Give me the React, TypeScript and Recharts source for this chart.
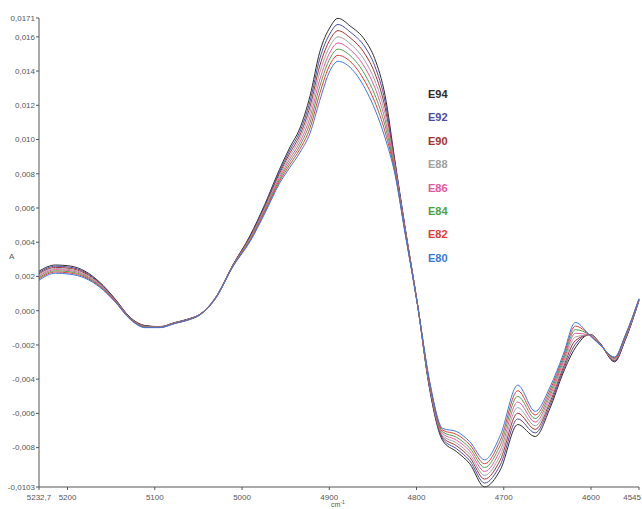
import React from 'react'
import { LineChart, Line, XAxis, YAxis } from 'recharts'

// wavenumbers (cm-1), read left to right
const wavenumbers = [
  5232.7, 5214, 5197, 5180, 5163, 5146, 5128, 5111, 5094, 5077, 5060, 5048, 5031, 5010, 4991, 4974,
  4957, 4945, 4934, 4922, 4911, 4899, 4890, 4876, 4859, 4848, 4836, 4825, 4813, 4799, 4785, 4770,
  4754, 4739, 4722, 4704, 4684, 4664, 4647, 4632, 4618, 4601, 4590, 4573, 4561, 4545
]

const e94 = [0.00231, 0.00267, 0.00261, 0.00231, 0.00166, 0.00072, -0.0004, -0.00087, -0.00093, -0.00069, -0.00046, -0.0002, 0.00072, 0.00272, 0.00437, 0.0062, 0.00826, 0.00956, 0.01062, 0.01256, 0.0151, 0.01657, 0.01708, 0.01663, 0.0158, 0.01474, 0.01256, 0.00885, 0.00484, 0.00042, -0.00458, -0.00759, -0.00824, -0.00894, -0.0103, -0.0093, -0.00665, -0.00735, -0.0057, -0.00364, -0.00217, -0.00138, -0.00187, -0.00299, -0.00175, 0.0006]
const e92 = [0.00223, 0.0026, 0.00254, 0.00225, 0.00162, 0.00069, -0.00042, -0.00089, -0.00094, -0.0007, -0.00047, -0.00021, 0.00071, 0.0027, 0.00432, 0.00612, 0.00814, 0.00939, 0.01042, 0.01225, 0.0147, 0.01621, 0.01672, 0.01628, 0.0154, 0.01432, 0.01221, 0.00873, 0.00479, 0.00041, -0.00451, -0.00749, -0.00807, -0.00876, -0.01007, -0.00901, -0.00632, -0.00714, -0.00552, -0.00349, -0.00196, -0.00139, -0.00189, -0.00295, -0.00171, 0.00061]
const e90 = [0.00216, 0.00253, 0.00247, 0.00219, 0.00158, 0.00067, -0.00043, -0.0009, -0.00095, -0.00071, -0.00048, -0.00021, 0.0007, 0.00269, 0.00427, 0.00605, 0.00803, 0.00922, 0.01022, 0.01194, 0.01429, 0.01585, 0.01636, 0.01594, 0.01499, 0.0139, 0.01185, 0.00862, 0.00474, 0.00041, -0.00445, -0.00739, -0.0079, -0.00857, -0.00984, -0.00872, -0.00599, -0.00693, -0.00535, -0.00334, -0.00175, -0.0014, -0.0019, -0.00291, -0.00167, 0.00063]
const e88 = [0.00208, 0.00246, 0.0024, 0.00213, 0.00154, 0.00064, -0.00045, -0.00092, -0.00096, -0.00072, -0.00049, -0.00022, 0.00069, 0.00267, 0.00422, 0.00597, 0.00791, 0.00905, 0.01002, 0.01163, 0.01389, 0.01548, 0.016, 0.01559, 0.01459, 0.01348, 0.0115, 0.0085, 0.00469, 0.0004, -0.00438, -0.00729, -0.00773, -0.00839, -0.00962, -0.00844, -0.00566, -0.00672, -0.00517, -0.00318, -0.00154, -0.00141, -0.00192, -0.00287, -0.00163, 0.00064]
const e86 = [0.00201, 0.0024, 0.00234, 0.00208, 0.00149, 0.00062, -0.00047, -0.00094, -0.00096, -0.00072, -0.00049, -0.00022, 0.00069, 0.00266, 0.00417, 0.0059, 0.00779, 0.00889, 0.00981, 0.01131, 0.01348, 0.01512, 0.01564, 0.01525, 0.01419, 0.01306, 0.01115, 0.00838, 0.00464, 0.0004, -0.00431, -0.00718, -0.00757, -0.0082, -0.00939, -0.00815, -0.00533, -0.00651, -0.00499, -0.00303, -0.00132, -0.00143, -0.00194, -0.00282, -0.00158, 0.00066]
const e84 = [0.00193, 0.00233, 0.00227, 0.00202, 0.00145, 0.00059, -0.00048, -0.00095, -0.00097, -0.00073, -0.0005, -0.00023, 0.00068, 0.00264, 0.00412, 0.00582, 0.00767, 0.00872, 0.00961, 0.011, 0.01308, 0.01476, 0.01528, 0.0149, 0.01378, 0.01264, 0.0108, 0.00826, 0.00459, 0.00039, -0.00424, -0.00708, -0.0074, -0.00802, -0.00916, -0.00786, -0.005, -0.0063, -0.00482, -0.00288, -0.00111, -0.00144, -0.00196, -0.00278, -0.00154, 0.00067]
const e82 = [0.00186, 0.00226, 0.0022, 0.00196, 0.00141, 0.00057, -0.0005, -0.00097, -0.00098, -0.00074, -0.00051, -0.00023, 0.00067, 0.00263, 0.00407, 0.00575, 0.00756, 0.00855, 0.00941, 0.01069, 0.01268, 0.0144, 0.01492, 0.01456, 0.01338, 0.01222, 0.01044, 0.00815, 0.00454, 0.00039, -0.00418, -0.00698, -0.00723, -0.00783, -0.00894, -0.00758, -0.00468, -0.00609, -0.00464, -0.00273, -0.0009, -0.00145, -0.00197, -0.00274, -0.0015, 0.00069]
const e80 = [0.00178, 0.00219, 0.00213, 0.0019, 0.00137, 0.00054, -0.00052, -0.00099, -0.00099, -0.00075, -0.00052, -0.00024, 0.00066, 0.00261, 0.00402, 0.00567, 0.00744, 0.00838, 0.00921, 0.01038, 0.01227, 0.01404, 0.01457, 0.01421, 0.01298, 0.0118, 0.01009, 0.00803, 0.00449, 0.00038, -0.00411, -0.00688, -0.00706, -0.00765, -0.00871, -0.00729, -0.00435, -0.00588, -0.00446, -0.00258, -0.00069, -0.00146, -0.00199, -0.0027, -0.00146, 0.0007]

const seriesNames = ['E94', 'E92', 'E90', 'E88', 'E86', 'E84', 'E82', 'E80']
const seriesValues = [e94, e92, e90, e88, e86, e84, e82, e80]
const seriesColors = ['#2b2b2b', '#4b4ba3', '#a33131', '#a0a0a0', '#e3589f', '#4aa14a', '#e23c3c', '#3b79d9']

const xTicks = [5232.7, 5200, 5100, 5000, 4900, 4800, 4700, 4600, 4545]
const xTickLabels = ['5232,7', '5200', '5100', '5000', '4900', '4800', '4700', '4600', '4545']
const yTicks = [0.0171, 0.016, 0.014, 0.012, 0.01, 0.008, 0.006, 0.004, 0.002, 0, -0.002, -0.004, -0.006, -0.008, -0.0103]
const yTickLabels = ['0,0171', '0,016', '0,014', '0,012', '0,010', '0,008', '0,006', '0,004', '0,002', '0,000', '-0,002', '-0,004', '-0,006', '-0,008', '-0,0103']

const data = wavenumbers.map((wn, i) => {
  const row: Record<string, number> = { wn }
  seriesNames.forEach((n, k) => { row[n] = seriesValues[k][i] })
  return row
})

const font = 'Liberation Sans, Arial, sans-serif'

// x tick; the last label is pulled in so it stays on the page
const XTick = (props: any) => {
  const { x, y, payload } = props
  const label = xTickLabels[xTicks.indexOf(payload.value)] ?? String(payload.value)
  const isLast = payload.value === 4545
  return (
    <text x={isLast ? x + 2 : x} y={y + 8} textAnchor={isLast ? 'end' : 'middle'} fontSize={8} fill="#555" fontFamily={font}>
      {label}
    </text>
  )
}

export default function App() {
  return (
    <div style={{ position: 'absolute', left: 0, top: 0, width: 642, height: 509, background: '#fff' }}>
      <LineChart width={642} height={509} data={data} margin={{ top: 18, right: 3, bottom: 0, left: 0 }}>
        <XAxis
          dataKey="wn"
          type="number"
          domain={[4545, 5232.7]}
          reversed
          ticks={xTicks}
          interval={0}
          height={22}
          tickSize={3}
          stroke="#555"
          tick={<XTick />}
        />
        <YAxis
          type="number"
          domain={[-0.0103, 0.0171]}
          ticks={yTicks}
          interval={0}
          width={39}
          tickSize={3}
          tickMargin={1}
          stroke="#555"
          tick={{ fontSize: 8, fill: '#555', fontFamily: font }}
          tickFormatter={(v: number) => yTickLabels[yTicks.indexOf(v)] ?? String(v)}
        />
        {seriesNames.map((n, k) => (
          <Line
            key={n}
            dataKey={n}
            type="monotone"
            stroke={seriesColors[k]}
            strokeWidth={1}
            dot={false}
            isAnimationActive={false}
          />
        ))}
      </LineChart>
      <div style={{ position: 'absolute', left: 428, top: 83, fontFamily: font, fontWeight: 'bold', fontSize: 11 }}>
        {seriesNames.map((n, k) => (
          <div key={n} style={{ color: seriesColors[k], height: 23.4, lineHeight: '23.4px' }}>{n}</div>
        ))}
      </div>
      <div style={{ position: 'absolute', left: 9, top: 252, fontSize: 8, color: '#555', fontFamily: font }}>A</div>
      <div style={{ position: 'absolute', left: 331, top: 501, fontSize: 7, lineHeight: '8px', color: '#555', fontFamily: font }}>
        cm<sup style={{ fontSize: 5, lineHeight: 0 }}>-1</sup>
      </div>
    </div>
  )
}
